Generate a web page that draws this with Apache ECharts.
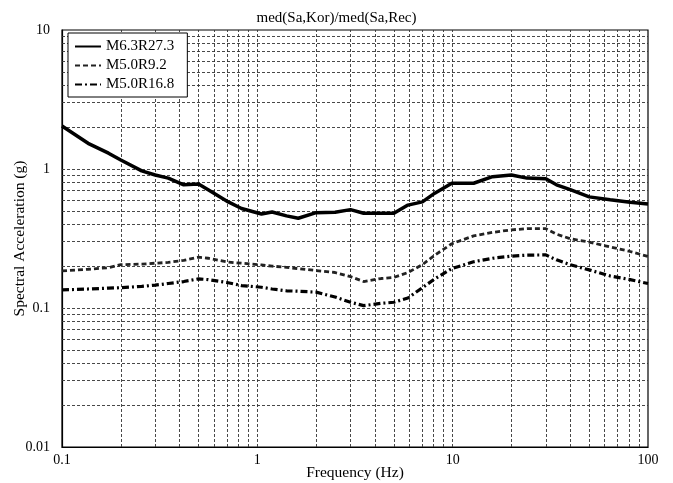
<!DOCTYPE html>
<html>
<head>
<meta charset="UTF-8">
<title>med(Sa,Kor)/med(Sa,Rec)</title>
<script src="https://cdn.jsdelivr.net/npm/echarts@6/dist/echarts.min.js"></script>
<style>
  html, body { margin: 0; padding: 0; background: #fff; }
  #main { width: 673px; height: 483px; }
</style>
</head>
<body>
<div id="main"></div>
<script>
var freq = [0.1, 0.136, 0.173, 0.2, 0.256, 0.3, 0.35, 0.42, 0.5, 0.56, 0.71, 0.83,
            1.05, 1.19, 1.41, 1.62, 2.0, 2.5, 3.0, 3.5, 4.3, 5.0, 5.9, 7.0, 8.1, 9.9,
            12.8, 16, 20, 24, 30, 34, 40, 50, 64, 81, 100];

// spectral acceleration (g)
var m63r273 = [2.04, 1.53, 1.30, 1.16, 0.97, 0.905, 0.86, 0.77, 0.78, 0.71, 0.58, 0.52,
               0.475, 0.49, 0.46, 0.442, 0.485, 0.488, 0.51, 0.48, 0.48, 0.48, 0.55, 0.58, 0.67, 0.79,
               0.79, 0.88, 0.905, 0.86, 0.85, 0.77, 0.71, 0.63, 0.60, 0.576, 0.56];
var m50r92 = [0.185, 0.19, 0.195, 0.205, 0.207, 0.21, 0.213, 0.22, 0.232, 0.228, 0.214, 0.21,
              0.204, 0.2, 0.196, 0.192, 0.186, 0.18, 0.168, 0.155, 0.163, 0.166, 0.18, 0.205, 0.24, 0.29,
              0.33, 0.35, 0.365, 0.372, 0.372, 0.34, 0.315, 0.298, 0.275, 0.255, 0.235];
var m50r168 = [0.135, 0.137, 0.139, 0.14, 0.143, 0.146, 0.15, 0.155, 0.162, 0.16, 0.152, 0.145,
               0.141, 0.137, 0.133, 0.132, 0.13, 0.12, 0.11, 0.104, 0.108, 0.11, 0.118, 0.14, 0.162, 0.192,
               0.215, 0.228, 0.236, 0.24, 0.241, 0.222, 0.205, 0.188, 0.17, 0.16, 0.15];

var seriesNames = ['M6.3R27.3', 'M5.0R9.2', 'M5.0R16.8'];

// grid line positions (1..9 per decade)
var xGridVals = [0.2, 0.3, 0.4, 0.5, 0.6, 0.7, 0.8, 0.9, 1, 2, 3, 4, 5, 6, 7, 8, 9, 10,
                 20, 30, 40, 50, 60, 70, 80, 90];
var yGridVals = [0.02, 0.03, 0.04, 0.05, 0.06, 0.07, 0.08, 0.09, 0.1, 0.2, 0.3, 0.4, 0.5,
                 0.6, 0.7, 0.8, 0.9, 1, 2, 3, 4, 5, 6, 7, 8, 9];

function pairs(ys) {
  var out = [];
  for (var i = 0; i < freq.length; i++) out.push([freq[i], ys[i]]);
  return out;
}

var gridLines = [];
xGridVals.forEach(function (v) { gridLines.push({ xAxis: v }); });
yGridVals.forEach(function (v) { gridLines.push({ yAxis: v }); });

var font = 'Liberation Serif';
var myChart = echarts.init(document.getElementById('main'));

var option = {
  animation: false,
  backgroundColor: '#fff',
  textStyle: { fontFamily: font, color: '#000' },
  title: {
    text: 'med(Sa,Kor)/med(Sa,Rec)',
    left: 'center',
    top: 6,
    textStyle: { fontFamily: font, fontSize: 15, fontWeight: 'normal', color: '#000' }
  },
  grid: {
    left: 62, right: 25, top: 30, bottom: 36,
    outerBoundsMode: 'none', containLabel: false,
    show: true, borderColor: '#000', borderWidth: 1.2, backgroundColor: 'transparent'
  },
  legend: {
    orient: 'vertical',
    left: 68, top: 33, z: 20,
    padding: [6, 13, 5, 6],
    itemGap: 4,
    itemWidth: 26, itemHeight: 14,
    backgroundColor: '#fff',
    borderColor: '#000', borderWidth: 1,
    itemStyle: { opacity: 0, borderWidth: 0 },
    textStyle: { fontFamily: font, fontSize: 15, color: '#000' },
    data: seriesNames
  },
  xAxis: {
    type: 'log', logBase: 10, min: 0.1, max: 100,
    name: 'Frequency (Hz)', nameLocation: 'middle', nameGap: 18, nameMoveOverlap: false,
    nameTextStyle: { fontFamily: font, fontSize: 15.5, color: '#000' },
    axisLine: { lineStyle: { color: '#000', width: 1.2 } },
    axisTick: { show: false },
    splitLine: { show: false },
    axisLabel: { fontFamily: font, fontSize: 14, color: '#000', margin: 6,
      formatter: function (v) { return String(+v.toPrecision(3)); } }
  },
  yAxis: {
    type: 'log', logBase: 10, min: 0.01, max: 10,
    name: 'Spectral Acceleration (g)', nameLocation: 'middle', nameGap: 34, nameMoveOverlap: false,
    nameTextStyle: { fontFamily: font, fontSize: 15.5, color: '#000' },
    axisLine: { lineStyle: { color: '#000', width: 1.2 } },
    axisTick: { show: false },
    splitLine: { show: false },
    axisLabel: { fontFamily: font, fontSize: 14, color: '#000', margin: 12,
      formatter: function (v) { return String(+v.toPrecision(3)); } }
  },
  series: [
    {
      name: 'grid', type: 'line', data: [], silent: true, z: 1,
      markLine: {
        silent: true, symbol: 'none', label: { show: false }, z: 1,
        lineStyle: { color: '#333', width: 0.9, type: [3, 2] },
        data: gridLines
      }
    },
    {
      name: seriesNames[0], type: 'line', data: pairs(m63r273), symbol: 'none',
      lineStyle: { color: '#000', width: 3.5, type: 'solid' }, itemStyle: { color: '#000' }
    },
    {
      name: seriesNames[1], type: 'line', data: pairs(m50r92), symbol: 'none',
      lineStyle: { color: '#222', width: 2.8, type: [5, 3] }, itemStyle: { color: '#222' }
    },
    {
      name: seriesNames[2], type: 'line', data: pairs(m50r168), symbol: 'none',
      lineStyle: { color: '#000', width: 3.2, type: [7, 3, 2, 3] }, itemStyle: { color: '#000' }
    }
  ]
};

myChart.setOption(option);
</script>
</body>
</html>
